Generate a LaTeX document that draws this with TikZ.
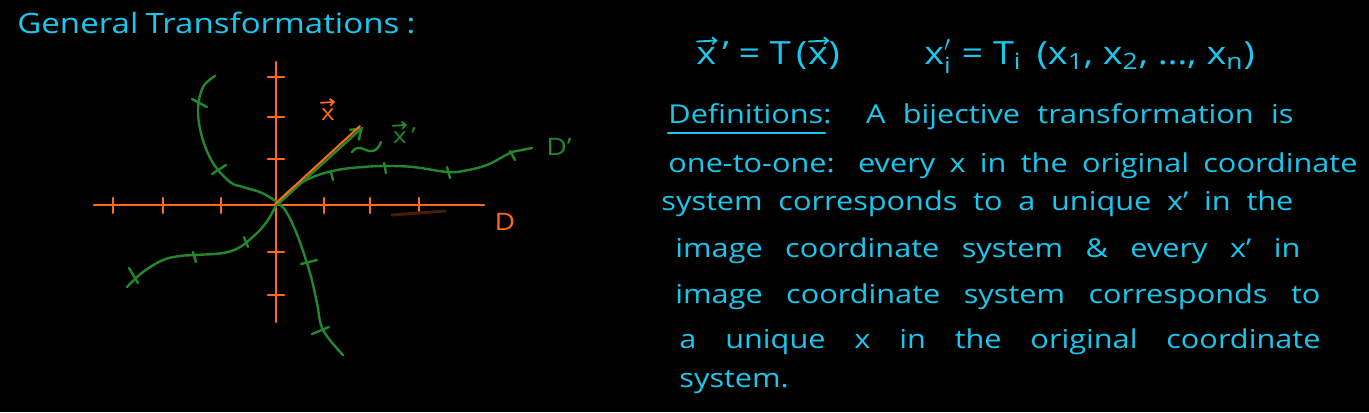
\documentclass[tikz,border=0pt]{standalone}
\usepackage{fontspec}
\usepackage{amsmath}
\setmainfont{Open Sans}[FakeStretch=1.18]
\usetikzlibrary{arrows.meta}
\definecolor{cy}{RGB}{25,200,238}
\definecolor{org}{RGB}{255,105,25}
\definecolor{grn}{RGB}{35,135,45}
\begin{document}
\begin{tikzpicture}[x=0.5pt,y=-0.5pt,
  txt/.style={text=cy, font=\fontsize{13}{15}\selectfont, inner sep=0pt, anchor=base west},
  eqn/.style={text=cy, font=\fontsize{16}{19}\selectfont, inner sep=0pt, anchor=base west},
  axisline/.style={draw=org, line width=1.4pt, line cap=round},
  gcurve/.style={draw=grn, line width=1.2pt, line cap=round, line join=round},
  olab/.style={text=org, font=\fontsize{11}{13}\selectfont, inner sep=0pt},
  glab/.style={text=grn, font=\fontsize{11}{13}\selectfont, inner sep=0pt},
  vecarrow/.style={line width=0.9pt, line cap=round, -{Straight Barb[length=2pt, width=3.5pt]}}]
\fill[black] (0,0) rectangle (1369,412);
\useasboundingbox (0,0) rectangle (1369,412);

% title
\node[txt, font=\fontsize{14}{16}\selectfont] (title) at (17,33) {\makebox[199pt][s]{General Transformations :}};

% equation 1
\node[eqn] (e1x) at (696,64) {x};
\node[eqn] (e1r) at (e1x.base east) {\,' = T\,(};
\node[eqn] (e1y) at (e1r.base east) {x};
\node[eqn] (e1z) at (e1y.base east) {)};
\draw[cy, vecarrow] ([yshift=2.5pt,xshift=0.5pt]e1x.north west) -- ([yshift=3pt,xshift=0.5pt]e1x.north east);
\draw[cy, vecarrow] ([yshift=2.5pt,xshift=0.5pt]e1y.north west) -- ([yshift=3pt,xshift=0.5pt]e1y.north east);

% equation 2
\node[eqn] (eq2) at (924,64) {x$'_{\text{i}}$ = T$_{\text{i}}$\, (x$_{\text{1}}$, x$_{\text{2}}$, \dots, x$_{\text{n}}$)};

% definitions
\node[txt] (l1) at (668,123) {\makebox[312.5pt][s]{Definitions:\ \ A bijective transformation is}};
\draw[cy, line width=1.2pt, line cap=round] (668,133) -- (825,133);
\node[txt] (l2) at (668,172) {\makebox[344.5pt][s]{one-to-one: every x in the original coordinate}};
\node[txt] (l3) at (661,210) {\makebox[316pt][s]{system corresponds to a unique x' in the}};
\node[txt] (l4) at (675,257) {\makebox[312.5pt][s]{image coordinate system \& every x' in}};
\node[txt] (l5) at (675,303) {\makebox[322.5pt][s]{image coordinate system corresponds to}};
\node[txt] (l6) at (679,348) {\makebox[320.5pt][s]{a unique x in the original coordinate}};
\node[txt] (l7) at (679,387) {system.};

% axes
\draw[axisline] (94,205) -- (484,205);
\draw[axisline] (276,62) -- (276,322);
\foreach \t in {113,163,221,324,370,419} \draw[axisline] (\t,198) -- (\t,213);
\foreach \t in {77,117,159,252,295} \draw[axisline] (268,\t) -- (284,\t);
\draw[org!28!black, line width=1.5pt, line cap=round] (392,215) -- (445,211);
\node[olab, font=\fontsize{12}{14}\selectfont] (D) at (505,222) {D};

% green curve 1
\draw[gcurve] plot[smooth, tension=0.6] coordinates {(215,76) (203,87) (198,110) (202,137) (213,163) (230,182) (243,187) (262,193) (278,203) (287,213) (298,237) (310,273) (317,303) (323,330) (343,355)};
\draw[gcurve] (192,99) -- (207,107);
\draw[gcurve] (212,174) -- (226,165);
\draw[gcurve] (301,264) -- (317,260);
\draw[gcurve] (312,334) -- (329,327);

% green curve 2
\draw[gcurve] plot[smooth, tension=0.6] coordinates {(127,287) (143,272) (163,260) (180,256) (195,255) (223,253) (240,247) (257,233) (268,220) (278,203) (293,188) (313,177) (337,170) (363,167) (385,166) (413,167) (447,172) (463,171) (487,165) (510,153) (522,150) (532,148)};
\draw[gcurve] (129,268) -- (138,283);
\draw[gcurve] (193,252) -- (196,262);
\draw[gcurve] (244,237) -- (248,247);
\draw[gcurve] (331,172) -- (333,180);
\draw[gcurve] (384,163) -- (386,173);
\draw[gcurve] (447,167) -- (450,178);
\draw[gcurve] (510,151) -- (515,160);
\node[glab, font=\fontsize{12}{14}\selectfont] (Dp) at (559,147) {D'};

% vectors
\draw[gcurve, -{Straight Barb[length=5pt, width=7pt]}] (277,205) -- (363,127);
\draw[org, line width=1pt, line cap=round] (275,204) -- (360,126);
\node[olab, anchor=base] (xv) at (328,120) {x};
\draw[org, vecarrow] ([yshift=2.5pt]xv.north west) -- ([yshift=3pt]xv.north east);
\node[glab, anchor=base] (xp) at (400,143) {x};
\node[glab, anchor=base west] (xpp) at (xp.base east) {\,'};
\draw[grn, vecarrow] ([yshift=2.5pt]xp.north west) -- ([yshift=3pt]xp.north east);
\draw[gcurve] (352,152) .. controls (358,144) and (364,150) .. (369,151) .. controls (375,152) and (379,148) .. (381,142);
\end{tikzpicture}
\end{document}
